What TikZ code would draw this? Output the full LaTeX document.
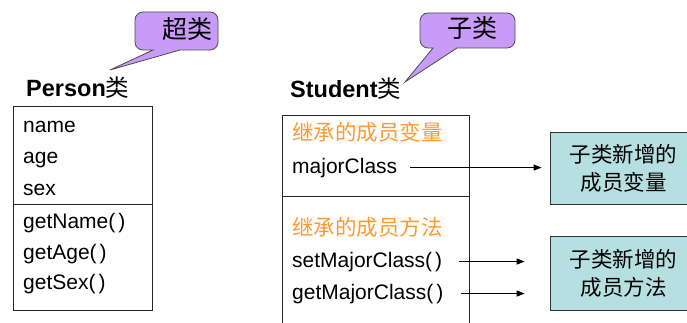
\documentclass[tikz,border=0pt]{standalone}
\usepackage{fontspec}
\setmainfont{Liberation Sans}
\newfontfamily\cjk{Noto Sans CJK SC}
\usetikzlibrary{arrows.meta}
\definecolor{bubble}{RGB}{200,155,248}
\definecolor{tealbox}{RGB}{181,223,224}
\definecolor{inh}{RGB}{255,153,51}
\begin{document}
\begin{tikzpicture}[x=1pt,y=-1pt,
  txt/.style={anchor=base west,inner sep=0pt,font=\fontsize{21}{25}\selectfont},
  ctxt/.style={anchor=base west,inner sep=0pt,font=\fontsize{21.5}{25}\selectfont\cjk,text=inh},
  titletxt/.style={anchor=base west,inner sep=0pt,font=\fontsize{23.5}{28}\selectfont\bfseries},
  classbox/.style={draw=black!85,line width=0.8pt,anchor=north west,inner sep=0pt},
  divline/.style={draw=black!85,line width=0.8pt},
  newbox/.style={draw=black!80,fill=tealbox,line width=0.8pt,minimum width=147pt,inner sep=0pt,align=center,font=\fontsize{21.5}{28}\selectfont\cjk},
  arr/.style={-{Triangle[length=8pt,width=6pt]},line width=0.8pt},
  callout/.style={draw=black!70,fill=bubble,line width=0.8pt},
  calltxt/.style={inner sep=0pt,font=\fontsize{25}{30}\selectfont\cjk}
]
\useasboundingbox (0,0) rectangle (687,323);

% callouts
\draw[callout] (110,70) -- (153,50) {[rounded corners=8pt] -- (135,50) -- (135,12) -- (218,12) -- (218,50)} -- (180,50) -- cycle;
\node[calltxt] (sup) at (187,29) {超类};
\draw[callout] (405,82) -- (433,48) {[rounded corners=8pt] -- (420,48) -- (420,13) -- (515,13) -- (515,48)} -- (457,48) -- cycle;
\node[calltxt] (sub) at (472,28) {子类};

% Person class
\node[titletxt] (ptitle) at (26,97) {Person{\cjk\mdseries 类}};
\node[classbox,minimum width=139pt,minimum height=204pt] (pbox) at (13,106) {};
\draw[divline] (pbox.west |- 0,204) -- (pbox.east |- 0,204);
\node[txt] (pname) at (23,133) {name};
\node[txt] (page) at (23,164) {age};
\node[txt] (psex) at (23,195) {sex};
\node[txt] (pgn) at (23,228) {getName(\hspace{3pt})};
\node[txt] (pga) at (23,259) {getAge(\hspace{3pt})};
\node[txt] (pgs) at (23,289) {getSex(\hspace{3pt})};

% Student class
\node[titletxt] (stitle) at (290,98) {Student{\cjk\mdseries 类}};
\node[classbox,minimum width=187pt,minimum height=240pt] (sbox) at (282,115) {};
\draw[divline] (sbox.west |- 0,196) -- (sbox.east |- 0,196);
\node[ctxt] (ivar) at (292,141) {继承的成员变量};
\node[txt] (mc) at (292,173) {majorClass};
\node[ctxt] (imeth) at (292,235) {继承的成员方法};
\node[txt] (smc) at (292,267) {setMajorClass(\hspace{3pt})};
\node[txt] (gmc) at (292,299) {getMajorClass(\hspace{3pt})};

% new members
\node[newbox,minimum height=72pt] (nb1) at (623.5,168) {子类新增的\\成员变量};
\node[newbox,minimum height=74pt] (nb2) at (623.5,273) {子类新增的\\成员方法};

% arrows
\draw[arr,shorten >=8pt] ([xshift=13pt]mc.east) -- (mc.east -| nb1.west);
\draw[arr,shorten >=25pt] ([xshift=17pt]smc.east) -- (smc.east -| nb2.west);
\draw[arr,shorten >=25pt] ([xshift=17pt]gmc.east) -- (gmc.east -| nb2.west);
\end{tikzpicture}
\end{document}
